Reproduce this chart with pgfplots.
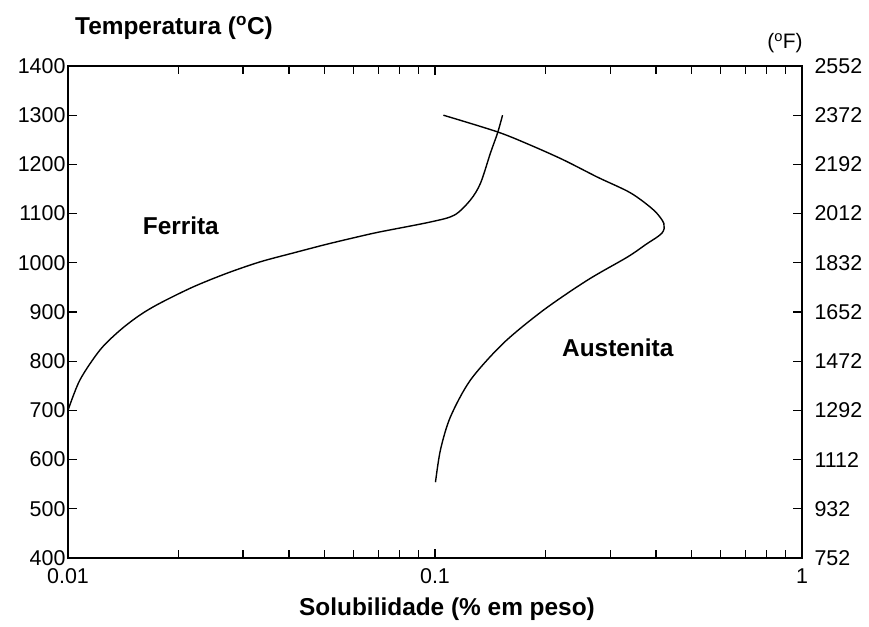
\documentclass[border=0pt]{standalone}
\usepackage{pgfplots}
\pgfplotsset{compat=1.18}
\usepackage{fontspec}
\setmainfont{Liberation Sans}
\begin{document}
\begin{tikzpicture}
\useasboundingbox (-68bp,-69bp) rectangle (801bp,558bp);
\begin{axis}[
  at={(0,0)}, anchor=south west,
  scale only axis, width=734bp, height=492bp,
  xmode=log, xmin=0.01, xmax=1, ymin=400, ymax=1400,
  xtick={0.01,0.1,1}, xticklabels={0.01,0.1,1},
  ytick={400,500,...,1400},
  ytick pos=left, xtick pos=both,
  tick align=inside,
  major tick length=9bp, minor tick length=8bp,
  every tick/.style={black, line width=1.2pt},
  axis line style={line width=1.4pt},
  /pgf/number format/assume math mode=true,
  /pgf/number format/1000 sep={},
  tick label style={font=\fontsize{21.5}{25}\selectfont},
  xticklabel style={yshift=-7bp},
  yticklabel style={xshift=1bp},
]
\addplot[black, line width=1.4pt, smooth, tension=0.5] coordinates {
(0.0100,700) (0.01078,762) (0.01223,823) (0.01387,863) (0.01572,894)
(0.01782,918) (0.02193,951) (0.02716,979) (0.03342,1002) (0.04111,1020)
(0.05089,1038) (0.06263,1054) (0.07099,1063) (0.09727,1083) (0.1130,1097)
(0.1250,1128) (0.1331,1162) (0.1416,1223) (0.1481,1264) (0.1528,1300)
};
\addplot[black, line width=1.4pt, smooth, tension=0.5] coordinates {
(0.1054,1300) (0.1481,1266) (0.1822,1239) (0.2241,1209) (0.2773,1174)
(0.3412,1142) (0.3945,1107) (0.4203,1080) (0.415,1060) (0.375,1037)
(0.335,1012) (0.2606,965) (0.1977,904) (0.1538,837) (0.1250,762)
(0.1102,687) (0.1035,620) (0.1003,554)
};
\node[font=\fontsize{24.5}{28}\selectfont\bfseries] at (axis cs:0.0203,1075) {Ferrita};
\node[font=\fontsize{24.5}{28}\selectfont\bfseries] at (axis cs:0.3148,827) {Austenita};
\end{axis}
\begin{axis}[
  at={(0,0)}, anchor=south west,
  scale only axis, width=734bp, height=492bp,
  xmode=log, xmin=0.01, xmax=1, ymin=752, ymax=2552,
  axis x line=none, axis y line*=right,
  ytick={752,932,...,2552},
  tick align=inside,
  major tick length=9bp,
  every tick/.style={black, line width=1.2pt},
  axis line style={line width=1.4pt},
  /pgf/number format/assume math mode=true,
  /pgf/number format/1000 sep={},
  tick label style={font=\fontsize{21.5}{25}\selectfont},
  yticklabel style={xshift=9bp},
]
\addplot[draw=none] coordinates {(0.1,1000)};
\end{axis}
\node[font=\fontsize{24.5}{28}\selectfont\bfseries] at (106bp,530bp) {Temperatura (\textsuperscript{o}C)};
\node[font=\fontsize{21}{24}\selectfont] at (717bp,515bp) {(\textsuperscript{o}F)};
\node[font=\fontsize{24.5}{28}\selectfont\bfseries] at (379bp,-51bp) {Solubilidade (\% em peso)};
\end{tikzpicture}
\end{document}
